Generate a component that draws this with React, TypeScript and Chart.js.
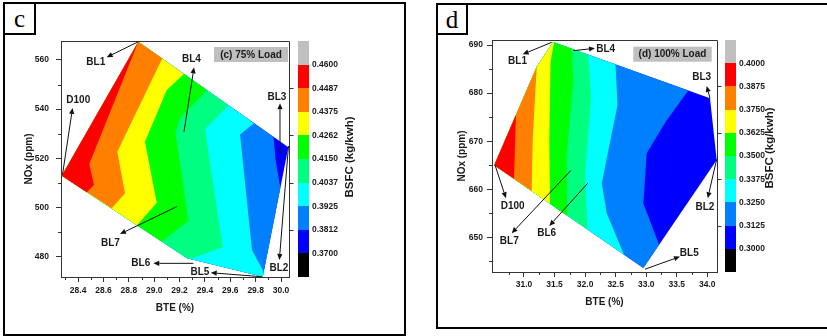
import React, { useEffect, useRef } from 'react';
import { Chart, registerables } from 'chart.js';

Chart.register(...registerables);

const SANS = "'Liberation Sans', Arial, Helvetica, sans-serif";
const SERIF = "'Liberation Serif', 'Times New Roman', serif";
const AXIS = '#333333';
const INK = '#1a1a1a';

// colour of each BSFC band, from below the lowest level up to above the highest
const BAND_COLORS = ['#000000', '#0000FF', '#0080FF', '#00FFFF', '#00FF80', '#00FF00', '#FFFF00', '#FF8000', '#FF0000', '#C0C0C0'];

// ---------------- Panel c : 75% load ----------------
const BTE_RANGE_C = [28.265, 30.063];
const NOX_RANGE_C = [471.7, 567.7];
const BTE_TICKS_C = [28.4, 28.6, 28.8, 29.0, 29.2, 29.4, 29.6, 29.8, 30.0];
const BTE_MINOR_C = [28.3, 28.5, 28.7, 28.9, 29.1, 29.3, 29.5, 29.7, 29.9];
const NOX_TICKS_C = [480, 500, 520, 540, 560];
const NOX_MINOR_C = [490, 510, 530, 550];
const BSFC_LEVELS_C = [0.37, 0.38125, 0.3925, 0.40375, 0.415, 0.42625, 0.4375, 0.44875, 0.46];
const BSFC_LABELS_C = ['0.3700', '0.3812', '0.3925', '0.4037', '0.4150', '0.4262', '0.4375', '0.4487', '0.4600'];
// outline of the measured region: D100, BL1, BL3, BL2, lower kink
const HULL_C = [[28.271, 512.9], [28.875, 567.4], [30.058, 524.45], [29.856, 471.81], [29.259, 479.3]];
// iso-BSFC lines (top to bottom) for levels 0.3812 ... 0.4487
const ISO_C = [
  [[29.941, 528.69], [29.957, 519.29], [29.995, 507.9]],
  [[29.787, 534.26], [29.677, 529.66], [29.771, 482.67], [29.863, 473.72]],
  [[29.586, 541.58], [29.401, 531.78], [29.54, 483.77], [29.282, 479.01]],
  [[29.416, 547.68], [29.204, 536.37], [29.168, 530.68], [29.269, 494.47], [29.059, 486.09]],
  [[29.235, 554.27], [29.099, 547.77], [28.927, 526.73], [29.02, 501.92], [28.864, 492.72]],
  [[29.064, 560.66], [28.709, 522.66], [28.77, 505.74], [28.665, 499.64]],
  [[28.875, 567.4], [28.488, 517.66], [28.525, 509.1], [28.468, 506.2]],
];
// outline vertices that close each high-BSFC region
const ISO_TAIL_C = [[3, 4, 0, 1], [3, 4, 0, 1], [4, 0, 1], [0, 1], [0, 1], [0, 1], [0, 1]];
const BLEND_NAMES_C = ['D100', 'BL1', 'BL2', 'BL3', 'BL4', 'BL5', 'BL6', 'BL7'];
const ARROW_FROM_C = [[28.277, 513.39], [28.875, 567.4], [30.059, 524.98], [29.992, 522.01], [29.235, 530.8], [29.848, 471.81], [29.308, 477.26], [29.177, 500.29]];
const ARROW_TO_C = [[28.356, 540.44], [28.625, 561.07], [29.987, 478.6], [29.992, 542.35], [29.314, 557.0], [29.446, 473.44], [28.993, 477.26], [28.73, 489.18]];
const NAME_AT_C = [[28.401, 543.57], [28.539, 558.87], [29.983, 475.35], [29.968, 544.92], [29.293, 560.46], [29.361, 473.64], [28.894, 477.1], [28.655, 485.23]];

// ---------------- Panel d : 100% load ----------------
const BTE_RANGE_D = [30.4763, 34.1588];
const NOX_RANGE_D = [642.79, 691.04];
const BTE_TICKS_D = [31.0, 31.5, 32.0, 32.5, 33.0, 33.5, 34.0];
const BTE_MINOR_D = [30.75, 31.25, 31.75, 32.25, 32.75, 33.25, 33.75];
const NOX_TICKS_D = [650, 660, 670, 680, 690];
const NOX_MINOR_D = [645, 655, 665, 675, 685];
const BSFC_LEVELS_D = [0.3, 0.3125, 0.325, 0.3375, 0.35, 0.3625, 0.375, 0.3875, 0.4];
const BSFC_LABELS_D = ['0.3000', '0.3125', '0.3250', '0.3375', '0.3500', '0.3625', '0.3750', '0.3875', '0.4000'];
// outline: D100, upper-left kink, BL1, BL3, BL2, BL5
const HULL_D = [[30.512, 664.99], [31.208, 685.49], [31.475, 690.6], [34.044, 678.92], [34.154, 666.09], [32.953, 643.64]];
const ISO_D = [
  [[33.689, 680.54], [33.316, 673.99], [33.008, 667.48], [32.953, 657.09], [33.21, 648.44]],
  [[32.498, 685.95], [32.53, 677.53], [32.272, 661.25], [32.354, 655.01], [32.637, 646.4]],
  [[32.052, 687.96], [32.097, 678.98], [31.998, 662.97], [32.039, 651.62]],
  [[31.781, 689.21], [31.807, 682.72], [31.699, 666.78], [31.709, 654.51]],
  [[31.491, 690.52], [31.434, 686.47], [31.414, 670.25], [31.426, 657.01]],
  [[31.208, 685.49], [31.142, 670.25], [31.126, 659.63]],
  [[30.869, 675.51], [30.836, 662.16]],
];
const ISO_TAIL_D = [[5, 0, 1, 2], [0, 1, 2], [0, 1, 2], [0, 1, 2], [0, 1, 2], [0], [0]];
const BLEND_NAMES_D = ['D100', 'BL1', 'BL2', 'BL3', 'BL4', 'BL5', 'BL6', 'BL7'];
const ARROW_FROM_D = [[30.525, 665.05], [31.453, 690.56], [34.154, 666.24], [34.044, 678.92], [31.807, 688.82], [32.98, 643.37], [32.043, 661.25], [31.764, 663.87]];
const ARROW_TO_D = [[30.705, 658.13], [30.979, 688.07], [34.007, 658.13], [33.99, 681.48], [32.162, 689.31], [33.553, 645.99], [31.414, 652.37], [30.799, 650.85]];
const NAME_AT_D = [[30.815, 656.53], [30.894, 686.53], [33.962, 656.26], [33.908, 683.29], [32.337, 689.17], [33.705, 646.7], [31.372, 650.85], [30.759, 649.11]];

const PANEL_C = {
  key: 'c', left: 0, W: 410, H: 336,
  area: { left: 61, top: 41, right: 289, bottom: 277 },
  xRange: BTE_RANGE_C, yRange: NOX_RANGE_C, xTicks: BTE_TICKS_C, xMinor: BTE_MINOR_C,
  yTicks: NOX_TICKS_C, yMinor: NOX_MINOR_C, levels: BSFC_LEVELS_C, levelLabels: BSFC_LABELS_C,
  hull: HULL_C, iso: ISO_C, tails: ISO_TAIL_C,
  names: BLEND_NAMES_C, from: ARROW_FROM_C, to: ARROW_TO_C, at: NAME_AT_C,
  xTickPad: 4, yTickPad: 7, xTitlePad: 21.7, yTitlePad: 23.3,
  cbGap: 9, cbTitleDx: 61, cbTitleDy: -2,
  loadText: '(c) 75% Load', loadRight: 1, loadW: 74, loadTop: 6,
};

const PANEL_D = {
  key: 'd', left: 410, W: 417, H: 336,
  area: { left: 82, top: 40, right: 307, bottom: 272 },
  xRange: BTE_RANGE_D, yRange: NOX_RANGE_D, xTicks: BTE_TICKS_D, xMinor: BTE_MINOR_D,
  yTicks: NOX_TICKS_D, yMinor: NOX_MINOR_D, levels: BSFC_LEVELS_D, levelLabels: BSFC_LABELS_D,
  hull: HULL_D, iso: ISO_D, tails: ISO_TAIL_D,
  names: BLEND_NAMES_D, from: ARROW_FROM_D, to: ARROW_TO_D, at: NAME_AT_D,
  xTickPad: 3, yTickPad: 4, xTitlePad: 27.3, yTitlePad: 46.3,
  cbGap: 8, cbTitleDx: 53, cbTitleDy: -8,
  loadText: '(d) 100% Load', loadRight: 5.3, loadW: 78.4, loadTop: 6.7,
};

function poly(pts: number[][], color: string) {
  return {
    data: pts.map(([x, y]) => ({ x, y })),
    backgroundColor: color,
    borderColor: color,
    borderWidth: 0,
    pointRadius: 0,
    pointHoverRadius: 0,
    fill: 'shape',
    tension: 0,
    xAxisID: 'x',
    yAxisID: 'y',
  };
}

function makeDecor(p: any) {
  return {
    id: 'decor_' + p.key,
    afterDraw(chart: any) {
      const { ctx, chartArea: a } = chart;
      const sx = chart.scales.x;
      const sy = chart.scales.y;
      const cb = chart.scales.cb;
      ctx.save();
      // frame (top / right) and minor ticks
      ctx.strokeStyle = AXIS;
      ctx.lineWidth = 1;
      ctx.beginPath();
      const rx = Math.round(a.right) + 0.5;
      const ty = Math.round(a.top) + 0.5;
      ctx.moveTo(a.left, ty);
      ctx.lineTo(rx, ty);
      ctx.lineTo(rx, a.bottom);
      p.xMinor.forEach((v: number) => {
        const x = Math.round(sx.getPixelForValue(v)) + 0.5;
        ctx.moveTo(x, a.bottom);
        ctx.lineTo(x, a.bottom + 3);
      });
      p.yMinor.forEach((v: number) => {
        const y = Math.round(sy.getPixelForValue(v)) + 0.5;
        ctx.moveTo(a.left - 3, y);
        ctx.lineTo(a.left, y);
      });
      p.levels.forEach((v: number, i: number) => {
        if (i % 2 === 1) {
          const y = Math.round(cb.getPixelForValue(v)) + 0.5;
          ctx.moveTo(rx, y);
          ctx.lineTo(rx + 4, y);
        }
      });
      ctx.stroke();

      // colour scale
      const x0 = Math.round(a.right + p.cbGap);
      const cw = 11;
      const n = p.levels.length;
      for (let i = 0; i <= n; i++) {
        const lo = i === 0 ? cb.min : p.levels[i - 1];
        const hi = i === n ? cb.max : p.levels[i];
        const y1 = Math.round(cb.getPixelForValue(hi));
        const y2 = Math.round(cb.getPixelForValue(lo));
        ctx.fillStyle = BAND_COLORS[i];
        ctx.fillRect(x0, y1, cw, y2 - y1);
      }
      ctx.fillStyle = INK;
      ctx.font = `bold 8.5px ${SANS}`;
      ctx.textAlign = 'left';
      ctx.textBaseline = 'middle';
      p.levelLabels.forEach((t: string, i: number) => {
        ctx.fillText(t, x0 + cw + 3, cb.getPixelForValue(p.levels[i]));
      });
      ctx.save();
      ctx.translate(a.right + p.cbTitleDx, (a.top + a.bottom) / 2 + p.cbTitleDy);
      ctx.rotate(-Math.PI / 2);
      ctx.font = `bold 11.5px ${SANS}`;
      ctx.textAlign = 'center';
      ctx.fillText('BSFC (kg/kwh)', 0, 0);
      ctx.restore();

      // load tag
      const bx = a.right - p.loadRight - p.loadW;
      const by = a.top + p.loadTop;
      ctx.fillStyle = '#BFBFBF';
      ctx.fillRect(bx, by, p.loadW, 15);
      ctx.fillStyle = INK;
      ctx.font = `bold 10px ${SANS}`;
      ctx.textAlign = 'center';
      ctx.fillText(p.loadText, bx + p.loadW / 2, by + 8);

      // arrows with blend names
      ctx.strokeStyle = '#111';
      ctx.fillStyle = '#111';
      ctx.lineWidth = 1;
      p.names.forEach((name: string, i: number) => {
        const fx = sx.getPixelForValue(p.from[i][0]);
        const fy = sy.getPixelForValue(p.from[i][1]);
        const tx = sx.getPixelForValue(p.to[i][0]);
        const tyy = sy.getPixelForValue(p.to[i][1]);
        const ang = Math.atan2(tyy - fy, tx - fx);
        const hl = 6;
        const hw = 2.6;
        const bxp = tx - hl * Math.cos(ang);
        const byp = tyy - hl * Math.sin(ang);
        ctx.beginPath();
        ctx.moveTo(fx, fy);
        ctx.lineTo(bxp, byp);
        ctx.stroke();
        ctx.beginPath();
        ctx.moveTo(tx, tyy);
        ctx.lineTo(bxp - hw * Math.sin(ang), byp + hw * Math.cos(ang));
        ctx.lineTo(bxp + hw * Math.sin(ang), byp - hw * Math.cos(ang));
        ctx.closePath();
        ctx.fill();
        ctx.fillStyle = INK;
        ctx.font = `bold 10px ${SANS}`;
        ctx.textAlign = 'center';
        ctx.textBaseline = 'middle';
        ctx.fillText(name, sx.getPixelForValue(p.at[i][0]), sy.getPixelForValue(p.at[i][1]));
        ctx.fillStyle = '#111';
      });
      ctx.restore();
    },
  };
}

function makeConfig(p: any) {
  const datasets: any[] = [];
  for (let k = p.iso.length - 1; k >= 0; k--) {
    const pts = [...p.iso[k], ...p.tails[k].map((i: number) => p.hull[i])];
    pts.push(pts[0]);
    datasets.push(poly(pts, BAND_COLORS[k + 2]));
  }
  datasets.push(poly([...p.hull, p.hull[0]], BAND_COLORS[1]));
  const step = p.levels[1] - p.levels[0];
  const tickFont = { family: SANS, size: 8.5, weight: 'bold' };
  const titleFont = { family: SANS, size: 10, weight: 'bold' };
  return {
    type: 'line',
    data: { datasets },
    options: {
      animation: false,
      responsive: false,
      maintainAspectRatio: false,
      devicePixelRatio: 1,
      events: [],
      layout: { padding: { left: 0, top: p.area.top, right: p.W - p.area.right, bottom: 0 } },
      plugins: { legend: { display: false }, tooltip: { enabled: false }, title: { display: false } },
      scales: {
        x: {
          type: 'linear', position: 'bottom', min: p.xRange[0], max: p.xRange[1],
          afterBuildTicks: (s: any) => { s.ticks = p.xTicks.map((v: number) => ({ value: v })); },
          afterFit: (s: any) => { s.height = p.H - p.area.bottom; },
          ticks: {
            autoSkip: false, maxRotation: 0, minRotation: 0, padding: p.xTickPad, color: INK, font: tickFont,
            callback: (v: any) => Number(v).toFixed(1),
          },
          grid: { drawOnChartArea: false, drawTicks: true, tickLength: 5, tickColor: AXIS, tickWidth: 1 },
          border: { display: true, color: AXIS, width: 1 },
          title: { display: true, text: 'BTE (%)', color: INK, font: titleFont, padding: { top: 0, bottom: p.xTitlePad } },
        },
        y: {
          type: 'linear', position: 'left', min: p.yRange[0], max: p.yRange[1],
          afterBuildTicks: (s: any) => { s.ticks = p.yTicks.map((v: number) => ({ value: v })); },
          afterFit: (s: any) => { s.width = p.area.left; },
          ticks: {
            autoSkip: false, padding: p.yTickPad, color: INK, font: tickFont,
            callback: (v: any) => String(Math.round(Number(v))),
          },
          grid: { drawOnChartArea: false, drawTicks: true, tickLength: 5, tickColor: AXIS, tickWidth: 1 },
          border: { display: true, color: AXIS, width: 1 },
          title: { display: true, text: 'NOx (ppm)', color: INK, font: titleFont, padding: { top: p.yTitlePad, bottom: 0 } },
        },
        cb: {
          type: 'linear', position: 'right', display: false,
          min: p.levels[0] - step, max: p.levels[p.levels.length - 1] + step,
        },
      },
    },
    plugins: [makeDecor(p)],
  };
}

function ContourChart({ p }: { p: any }) {
  const ref = useRef<HTMLCanvasElement | null>(null);
  useEffect(() => {
    const chart = new Chart(ref.current as HTMLCanvasElement, makeConfig(p) as any);
    return () => chart.destroy();
  }, [p]);
  return (
    <canvas
      ref={ref}
      width={p.W}
      height={p.H}
      style={{ position: 'absolute', left: p.left, top: 0, width: p.W, height: p.H }}
    />
  );
}

function LetterBox({ left, top, w, h, letter }: { left: number; top: number; w: number; h: number; letter: string }) {
  return (
    <div
      style={{
        position: 'absolute', left, top, width: w, height: h, boxSizing: 'border-box',
        border: '2px solid #000', background: '#fff', display: 'flex', alignItems: 'center',
        justifyContent: 'center', fontFamily: SERIF, fontSize: 25, lineHeight: 1, color: '#000',
      }}
    >
      {letter}
    </div>
  );
}

export default function App() {
  return (
    <div style={{ position: 'absolute', left: 0, top: 0, width: 827, height: 336, overflow: 'hidden', background: '#fff' }}>
      <div style={{ position: 'absolute', left: 3, top: 2, width: 403, height: 334, border: '2px solid #000', boxSizing: 'border-box' }} />
      <div style={{ position: 'absolute', left: 436, top: 3, width: 420, height: 326, border: '2px solid #000', boxSizing: 'border-box' }} />
      <LetterBox left={3} top={2} w={33} h={33} letter="c" />
      <LetterBox left={436} top={3} w={32} h={32} letter="d" />
      <ContourChart p={PANEL_C} />
      <ContourChart p={PANEL_D} />
    </div>
  );
}
